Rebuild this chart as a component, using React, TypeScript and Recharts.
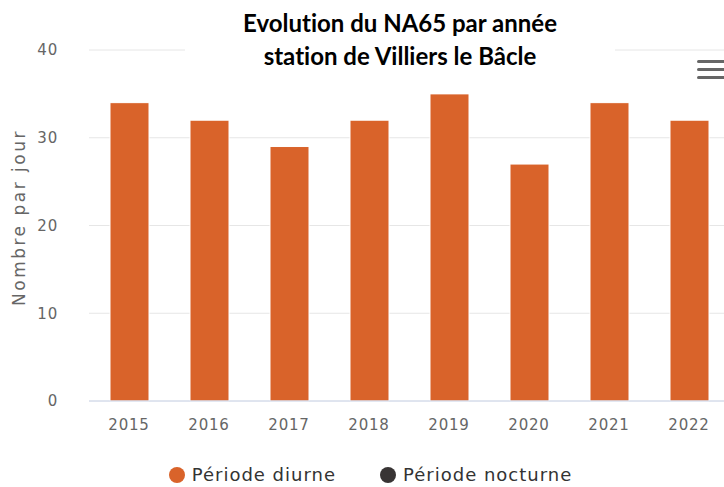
import { BarChart, Bar, XAxis, YAxis, CartesianGrid, Legend } from "recharts";

const YEARS = ["2015", "2016", "2017", "2018", "2019", "2020", "2021", "2022"];
const DIURNE = [34, 32, 29, 32, 35, 27, 34, 32];
const NOCTURNE = [0, 0, 0, 0, 0, 0, 0, 0];
const Y_TICKS = [0, 10, 20, 30, 40];

const ORANGE = "#D9632A";
const DARK = "#383434";
const FONT = "'DejaVu Sans', sans-serif";

const data = YEARS.map((year, i) => ({
  year,
  diurne: DIURNE[i],
  nocturne: NOCTURNE[i],
}));

function LegendContent({ payload }: { payload?: any[] }) {
  return (
    <div
      style={{
        height: 42,
        boxSizing: "border-box",
        paddingTop: 18,
        paddingLeft: 12,
        display: "flex",
        justifyContent: "center",
        gap: 44,
        fontFamily: FONT,
        fontSize: 18,
        letterSpacing: 1,
        lineHeight: "20px",
        color: "#333",
      }}
    >
      {(payload || []).map((p) => (
        <div key={p.value} style={{ display: "flex", alignItems: "center" }}>
          <span
            style={{
              width: 16,
              height: 16,
              borderRadius: 8,
              background: p.color,
              marginRight: 7,
              display: "inline-block",
            }}
          />
          {p.value}
        </div>
      ))}
    </div>
  );
}

export default function App() {
  return (
    <div
      style={{
        position: "absolute",
        left: 0,
        top: 0,
        width: 724,
        height: 487,
        overflow: "hidden",
        background: "#fff",
      }}
    >
      <BarChart
        width={740}
        height={487}
        data={data}
        margin={{ top: 50, right: 11, left: 0, bottom: 0 }}
      >
        <CartesianGrid vertical={false} stroke="#e6e6e6" />
        <XAxis
          dataKey="year"
          height={44}
          tickSize={0}
          tickMargin={18}
          axisLine={{ stroke: "#ccd6eb" }}
          tick={{ fill: "#666", fontSize: 15, fontFamily: FONT, letterSpacing: 0.8 }}
        />
        <YAxis
          width={89}
          domain={[0, 40]}
          ticks={Y_TICKS}
          axisLine={false}
          tickLine={false}
          tickSize={0}
          tickMargin={31}
          tick={{ fill: "#666", fontSize: 15, fontFamily: FONT, letterSpacing: 0.8 }}
          label={{
            value: "Nombre par jour",
            angle: -90,
            position: "center",
            dx: -26,
            dy: -8,
            fill: "#666",
            fontSize: 17,
            letterSpacing: 2.5,
            fontFamily: FONT,
          }}
        />
        <Legend verticalAlign="bottom" height={42} content={<LegendContent />} />
        <Bar
          dataKey="diurne"
          name="Période diurne"
          stackId="a"
          fill={ORANGE}
          stroke="#fff"
          strokeWidth={1}
          barSize={39}
          isAnimationActive={false}
        />
        <Bar
          dataKey="nocturne"
          name="Période nocturne"
          stackId="a"
          fill={DARK}
          barSize={39}
          isAnimationActive={false}
        />
      </BarChart>
      <div
        style={{
          position: "absolute",
          left: 185,
          top: 0,
          width: 430,
          height: 72,
          background: "#fff",
          textAlign: "center",
          fontFamily: "Lato, sans-serif",
          fontWeight: 700,
          fontSize: 24,
          fontVariantLigatures: "none",
          lineHeight: "33px",
          paddingTop: 6,
          boxSizing: "border-box",
          color: "#000",
        }}
      >
        <div>Evolution du NA65 par année</div>
        <div>station de Villiers le Bâcle</div>
      </div>
      <div style={{ position: "absolute", left: 697, top: 60 }}>
        {[0, 1, 2].map((i) => (
          <div
            key={i}
            style={{
              width: 30,
              height: 3,
              borderRadius: 2,
              background: "#666",
              marginBottom: 5,
            }}
          />
        ))}
      </div>
    </div>
  );
}
